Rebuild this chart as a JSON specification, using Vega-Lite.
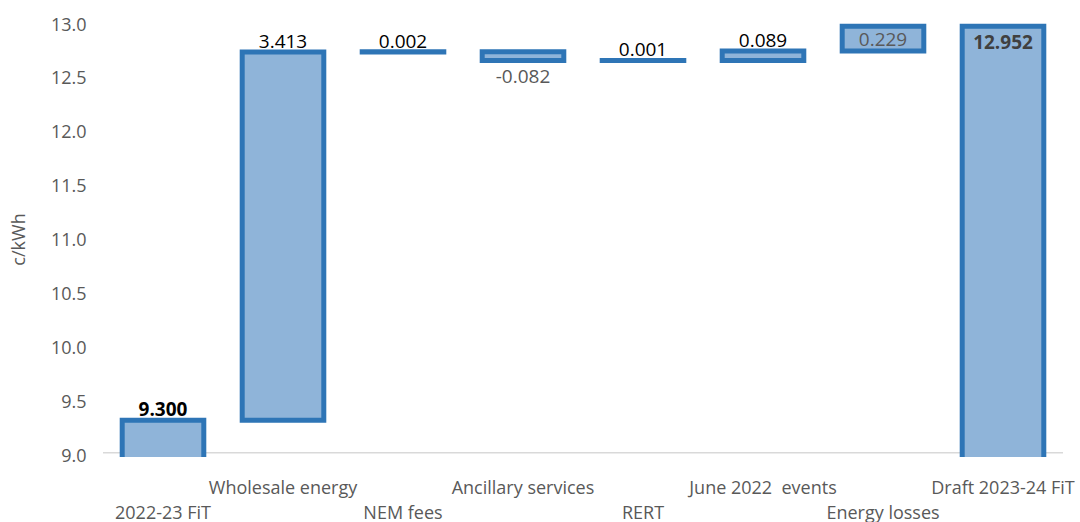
{
  "$schema": "https://vega.github.io/schema/vega-lite/v6.json",
  "width": 960,
  "height": 436,
  "autosize": {"type": "none"},
  "padding": {"left": 103, "top": 21, "right": 17, "bottom": 65},
  "config": {"view": {"stroke": null}, "font": "Open Sans"},
  "data": {
    "values": [
      {"category": "2022-23 FiT", "value": 9.3, "start": 0, "end": 9.3},
      {"category": "Wholesale energy", "value": 3.413, "start": 9.3, "end": 12.713},
      {"category": "NEM fees", "value": 0.002, "start": 12.713, "end": 12.715},
      {"category": "Ancillary services", "value": -0.082, "start": 12.715, "end": 12.633},
      {"category": "RERT", "value": 0.001, "start": 12.633, "end": 12.634},
      {"category": "June 2022  events", "value": 0.089, "start": 12.634, "end": 12.723},
      {"category": "Energy losses", "value": 0.229, "start": 12.723, "end": 12.952},
      {"category": "Draft 2023-24 FiT", "value": 12.952, "start": 0, "end": 12.952}
    ]
  },
  "layer": [
    {
      "data": {"values": [{"base": 9}]},
      "mark": {"type": "rule", "color": "#D9D9D9", "strokeWidth": 1.5},
      "encoding": {"y": {"field": "base", "type": "quantitative"}}
    },
    {
      "mark": {"type": "bar", "fill": "#8FB4D9", "stroke": "#2E75B6", "strokeWidth": 5, "clip": true},
      "encoding": {
        "x": {
          "field": "category", "type": "nominal", "sort": null,
          "scale": {"paddingInner": 0.32, "paddingOuter": 0.16},
          "axis": {
            "title": null, "domain": false, "ticks": false, "labelAngle": 0,
            "labelFontSize": 18, "labelColor": "#595959", "labelPadding": 22,
            "labelBaseline": "top", "labelLineHeight": 25,
            "labelOverlap": false, "labelLimit": 400, "labelBound": false,
            "labelExpr": "indexof(['2022-23 FiT','NEM fees','RERT','Energy losses'], datum.label) >= 0 ? ['', datum.label] : [replace(datum.label, '  ', '\u00a0\u00a0')]"
          }
        },
        "y": {
          "field": "start", "type": "quantitative",
          "scale": {"domain": [8.96, 13], "nice": false, "zero": false},
          "axis": {
            "title": "c/kWh", "values": [9, 9.5, 10, 10.5, 11, 11.5, 12, 12.5, 13],
            "format": ".1f", "domain": false, "ticks": false, "grid": false,
            "labelFontSize": 18, "labelColor": "#595959", "labelPadding": 17, "labelOffset": 4,
            "titleFontSize": 18, "titleFontWeight": "normal", "titleColor": "#595959", "titlePadding": 22
          }
        },
        "y2": {"field": "end"}
      }
    },
    {
      "transform": [{"filter": "indexof(['Wholesale energy','NEM fees','RERT','June 2022  events'], datum.category) >= 0"}],
      "mark": {"type": "text", "baseline": "alphabetic", "dy": -4, "fontSize": 19, "color": "#000000", "text": {"expr": "format(datum.value, '.3f')"}},
      "encoding": {
        "x": {"field": "category", "type": "nominal", "sort": null},
        "y": {"field": "end", "type": "quantitative"}
      }
    },
    {
      "transform": [{"filter": "datum.category == '2022-23 FiT'"}],
      "mark": {"type": "text", "baseline": "alphabetic", "dy": -4, "fontSize": 19, "fontWeight": "bold", "color": "#000000", "text": {"expr": "format(datum.value, '.3f')"}},
      "encoding": {
        "x": {"field": "category", "type": "nominal", "sort": null},
        "y": {"field": "end", "type": "quantitative"}
      }
    },
    {
      "transform": [{"filter": "datum.category == 'Ancillary services'"}],
      "mark": {"type": "text", "baseline": "alphabetic", "dy": 22, "fontSize": 19, "color": "#595959", "text": {"expr": "replace(format(datum.value, '.3f'), '\u2212', '-')"}},
      "encoding": {
        "x": {"field": "category", "type": "nominal", "sort": null},
        "y": {"field": "end", "type": "quantitative"}
      }
    },
    {
      "transform": [{"filter": "datum.category == 'Energy losses'"}],
      "mark": {"type": "text", "baseline": "alphabetic", "dy": 20, "fontSize": 19, "color": "#595959", "text": {"expr": "format(datum.value, '.3f')"}},
      "encoding": {
        "x": {"field": "category", "type": "nominal", "sort": null},
        "y": {"field": "end", "type": "quantitative"}
      }
    },
    {
      "transform": [{"filter": "datum.category == 'Draft 2023-24 FiT'"}],
      "mark": {"type": "text", "baseline": "alphabetic", "dy": 23, "fontSize": 19, "fontWeight": "bold", "color": "#404040", "text": {"expr": "format(datum.value, '.3f')"}},
      "encoding": {
        "x": {"field": "category", "type": "nominal", "sort": null},
        "y": {"field": "end", "type": "quantitative"}
      }
    }
  ]
}
